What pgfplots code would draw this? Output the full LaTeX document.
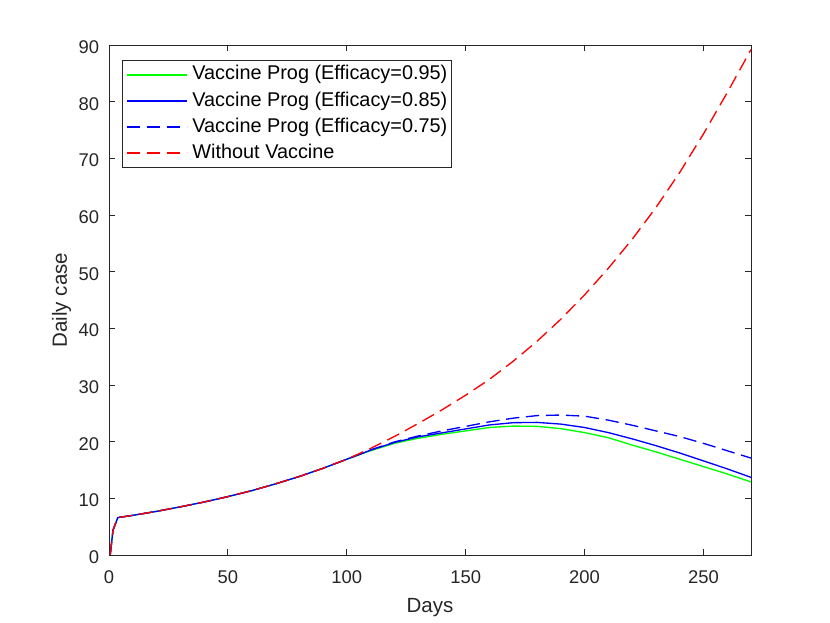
\documentclass[border=0pt]{standalone}
\usepackage{pgfplots}
\pgfplotsset{compat=1.18}
\usepackage{fontspec}
\setmainfont{Liberation Sans}
\definecolor{axgray}{rgb}{0.15,0.15,0.15}
\definecolor{mygreen}{rgb}{0,1,0}
\begin{document}
\begin{tikzpicture}
\path[use as bounding box] (-81.75pt,-51pt) rectangle (540.75pt,416.25pt);
\begin{axis}[
  scale only axis,
  width=481.5pt, height=382.5pt,
  xmin=0, xmax=270, ymin=0, ymax=90,
  xtick={0,50,...,250}, ytick={0,10,...,90},
  tick align=inside,
  major tick length=4.5pt,
  axis line style={axgray, line width=0.6pt},
  every tick/.style={axgray, line width=0.6pt},
  /pgf/number format/assume math mode=true,
  ticklabel style={font=\fontsize{13.8}{16}\selectfont, text=axgray},
  xticklabel style={anchor=base, yshift=-21.75pt},
  yticklabel style={anchor=east, inner sep=0pt, xshift=-7.3pt, yshift=-1.5pt},
  xlabel={Days}, ylabel={Daily case},
  label style={font=\fontsize{15.4}{18}\selectfont, text=axgray},
  xlabel style={at={(axis description cs:0.5,0)}, anchor=base, yshift=-43.3pt},
  ylabel style={at={(axis description cs:-0.0658,0.5)}, anchor=base},
  legend cell align=left,
  legend style={at={(0,1)}, anchor=north west, xshift=9.5pt, yshift=-11.3pt,
    draw=axgray, fill=white,
    font=\fontsize{14.9}{17}\selectfont,
    inner xsep=2.9pt, inner ysep=1pt,
    nodes={text height=11.3pt, text depth=3.5pt, inner ysep=2.4pt, inner xsep=0pt},
    /tikz/every odd column/.append style={column sep=3.75pt}},
  legend image code/.code={\draw[#1, line width=1.2pt] (0pt,0pt) -- (45pt,0pt);},
]
\addplot[color=mygreen, line width=1pt] coordinates {
(0.5,0) (1.7,4.4) (3.7,6.6) (10,7.0) (20,7.7) (30,8.5) (40,9.35) (50,10.3) (60,11.35) (70,12.55) (80,13.85) (90,15.3) (100,16.9)
(110,18.4) (120,19.7) (130,20.6) (140,21.3) (150,21.9) (160,22.5) (170,22.75) (180,22.7) (190,22.3) (200,21.6) (210,20.7) (220,19.4) (230,18.2) (240,16.9) (250,15.6) (260,14.3) (270,12.9)};
\addlegendentry{Vaccine Prog (Efficacy=0.95)}
\addplot[color=blue, line width=1pt] coordinates {
(0.5,0) (1.7,4.4) (3.7,6.6) (10,7.0) (20,7.7) (30,8.5) (40,9.35) (50,10.3) (60,11.35) (70,12.55) (80,13.85) (90,15.3) (100,16.9)
(110,18.5) (120,19.85) (130,20.85) (140,21.55) (150,22.25) (160,22.95) (170,23.35) (180,23.4) (190,23.1) (200,22.5) (210,21.6) (220,20.5) (230,19.3) (240,18.0) (250,16.6) (260,15.2) (270,13.7)};
\addlegendentry{Vaccine Prog (Efficacy=0.85)}
\addplot[color=blue, line width=1pt, dash pattern=on 10pt off 5pt] coordinates {
(0.5,0) (1.7,4.4) (3.7,6.6) (10,7.0) (20,7.7) (30,8.5) (40,9.35) (50,10.3) (60,11.35) (70,12.55) (80,13.85) (90,15.3) (100,16.9)
(110,18.55) (120,19.95) (130,21.0) (140,21.9) (150,22.7) (160,23.5) (170,24.15) (180,24.6) (190,24.7) (200,24.5) (210,23.8) (220,22.9) (230,21.9) (240,20.9) (250,19.7) (260,18.4) (270,17.1)};
\addlegendentry{Vaccine Prog (Efficacy=0.75)}
\addplot[color=red, line width=1pt, dash pattern=on 10pt off 5pt] coordinates {
(0.5,0) (1.7,4.4) (3.7,6.6) (10,7.0) (20,7.7) (30,8.5) (40,9.35) (50,10.3) (60,11.35) (70,12.55) (80,13.85) (90,15.3) (100,16.9)
(110,18.8) (120,20.9) (130,23.2) (140,25.6) (150,28.2) (160,31.0) (170,34.2) (180,37.7) (190,41.6) (200,45.9) (210,50.6) (220,55.7) (230,61.3) (240,67.5) (250,74.3) (260,81.6) (270,89.2)};
\addlegendentry{Without Vaccine}
\end{axis}
\end{tikzpicture}
\end{document}
